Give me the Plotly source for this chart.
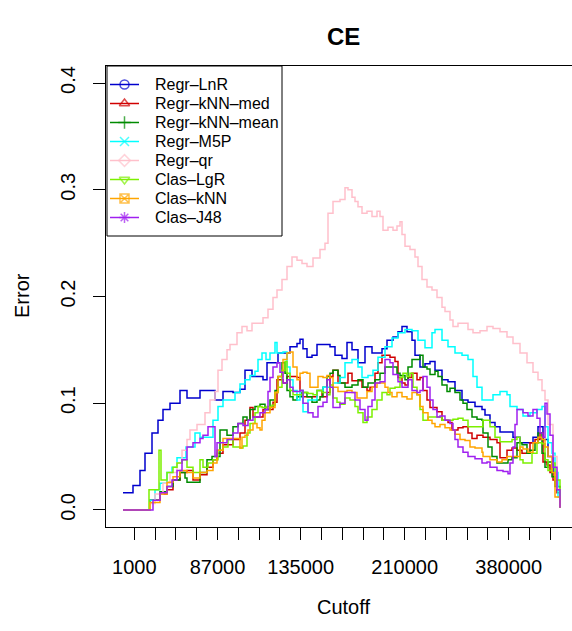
import plotly.graph_objects as go

FONT = "Liberation Sans, Arial, Helvetica, sans-serif"

# ---- data (index along cutoff axis, error value) ----
lnr_idx = [0,10,17,22,29,35,40,47,57,64,70,77,84,92,100,110,117,122,129,137,140,144,150,155,160,167,174,177,180,184,189,194,200,207,212,219,224,229,235,242,249,255,259,264,270,275,279,284,289,292,297,302,307,312,319,325,332,339,345,352,359,362,367,372,377,384,390,397,404,410,415,420,425,430,434,437]
lnr_err = [0.016,0.023,0.037,0.053,0.072,0.084,0.094,0.100,0.112,0.105,0.105,0.112,0.112,0.103,0.111,0.110,0.113,0.131,0.125,0.125,0.122,0.138,0.138,0.147,0.147,0.153,0.156,0.160,0.151,0.143,0.145,0.155,0.155,0.153,0.145,0.142,0.157,0.150,0.138,0.153,0.147,0.147,0.151,0.159,0.162,0.167,0.172,0.167,0.159,0.145,0.134,0.137,0.139,0.131,0.122,0.120,0.112,0.103,0.101,0.097,0.094,0.089,0.082,0.078,0.073,0.073,0.068,0.063,0.063,0.068,0.078,0.066,0.050,0.035,0.019,0.002]

knn_med_idx = [0,24,27,37,44,50,57,64,70,77,84,90,94,100,110,117,122,127,130,140,150,154,160,164,174,177,180,194,199,204,207,210,215,225,229,239,244,247,252,255,259,267,272,275,279,282,285,289,294,297,300,304,307,314,319,325,329,335,340,345,349,354,360,367,374,377,384,389,394,399,407,412,417,420,424,427,430,434,437]
knn_med_err = [0.0,0.0,0.009,0.015,0.019,0.028,0.035,0.037,0.028,0.033,0.040,0.047,0.053,0.061,0.066,0.072,0.084,0.096,0.087,0.094,0.101,0.122,0.119,0.125,0.124,0.112,0.106,0.112,0.106,0.110,0.125,0.131,0.119,0.128,0.121,0.115,0.112,0.115,0.128,0.138,0.145,0.143,0.139,0.124,0.119,0.117,0.124,0.128,0.122,0.124,0.112,0.103,0.096,0.092,0.084,0.082,0.075,0.077,0.078,0.072,0.067,0.070,0.068,0.066,0.063,0.049,0.056,0.058,0.056,0.053,0.063,0.066,0.072,0.045,0.042,0.035,0.028,0.016,0.002]

knn_mean_idx = [0,24,27,37,44,50,57,62,64,77,84,89,94,97,104,110,115,120,124,127,132,137,142,147,152,155,159,162,164,167,170,174,179,184,189,194,197,200,204,207,210,215,217,222,229,235,240,245,252,257,262,269,274,277,282,285,289,294,297,300,304,307,312,315,319,324,327,332,337,340,344,349,354,359,360,365,369,374,380,385,389,394,399,404,407,412,415,419,422,425,429,432,437]
knn_mean_err = [0.0,0.0,0.009,0.017,0.022,0.028,0.035,0.030,0.026,0.035,0.047,0.050,0.050,0.075,0.070,0.078,0.081,0.087,0.084,0.094,0.097,0.099,0.094,0.103,0.112,0.125,0.138,0.128,0.112,0.106,0.103,0.106,0.110,0.106,0.101,0.103,0.106,0.115,0.125,0.128,0.131,0.126,0.119,0.115,0.117,0.122,0.115,0.119,0.122,0.128,0.134,0.134,0.128,0.126,0.122,0.134,0.141,0.141,0.145,0.134,0.132,0.127,0.130,0.125,0.117,0.111,0.114,0.110,0.103,0.100,0.094,0.087,0.085,0.084,0.072,0.059,0.050,0.044,0.044,0.047,0.049,0.063,0.061,0.053,0.056,0.063,0.072,0.053,0.040,0.045,0.031,0.022,0.002]

m5p_idx = [0,22,27,32,37,44,49,54,61,63,70,72,77,84,90,95,100,107,112,117,122,127,132,135,139,143,147,152,154,160,164,167,170,174,177,180,185,194,200,210,217,222,229,235,239,245,250,255,262,269,275,282,289,295,302,309,312,319,325,332,339,345,350,354,359,364,370,377,384,387,394,400,407,414,419,422,425,429,432,435,437]
m5p_err = [0.0,0.0,0.009,0.019,0.025,0.035,0.040,0.049,0.049,0.059,0.059,0.072,0.068,0.068,0.084,0.097,0.103,0.103,0.110,0.118,0.122,0.126,0.130,0.141,0.147,0.141,0.147,0.157,0.147,0.148,0.134,0.122,0.112,0.103,0.112,0.092,0.103,0.112,0.115,0.119,0.124,0.138,0.141,0.134,0.124,0.126,0.131,0.143,0.153,0.161,0.166,0.169,0.168,0.159,0.152,0.166,0.169,0.159,0.153,0.147,0.145,0.141,0.125,0.115,0.103,0.103,0.108,0.111,0.108,0.097,0.094,0.088,0.091,0.094,0.097,0.078,0.063,0.053,0.035,0.012,0.002]

qr_idx = [0,22,27,32,40,47,54,59,64,67,74,82,87,92,95,99,104,107,114,119,124,129,140,145,150,154,159,164,169,174,179,184,190,197,202,205,210,217,222,225,229,232,235,239,244,249,254,257,260,265,270,274,277,279,282,287,292,295,299,304,309,314,319,322,327,330,335,340,345,350,357,364,370,377,384,390,397,404,410,415,419,422,425,430,434,437]
qr_err = [0.0,0.0,0.006,0.015,0.025,0.035,0.044,0.056,0.066,0.075,0.080,0.091,0.103,0.111,0.131,0.141,0.150,0.155,0.166,0.172,0.168,0.175,0.180,0.188,0.199,0.206,0.216,0.228,0.237,0.234,0.231,0.228,0.236,0.244,0.250,0.278,0.289,0.291,0.302,0.300,0.293,0.289,0.284,0.278,0.280,0.275,0.280,0.275,0.262,0.265,0.262,0.266,0.270,0.258,0.247,0.244,0.237,0.228,0.216,0.209,0.206,0.199,0.190,0.186,0.178,0.172,0.175,0.175,0.169,0.166,0.168,0.172,0.170,0.167,0.162,0.156,0.147,0.138,0.129,0.122,0.112,0.103,0.080,0.050,0.020,0.002]

lgr_idx = [0,25,26,35,36,38,44,50,54,59,64,70,77,80,85,90,95,100,105,110,117,120,124,127,132,135,139,144,149,152,155,159,162,164,167,170,175,180,185,190,194,199,204,207,210,214,217,222,227,232,235,240,244,249,254,259,264,267,272,277,280,284,287,290,294,297,300,305,312,319,325,330,335,340,345,352,360,367,372,377,384,389,394,397,400,405,409,414,419,422,425,429,432,437]
lgr_err = [0.0,0.0,0.019,0.019,0.056,0.028,0.035,0.040,0.044,0.047,0.040,0.035,0.047,0.040,0.044,0.047,0.056,0.059,0.066,0.059,0.058,0.060,0.072,0.081,0.091,0.097,0.096,0.097,0.098,0.110,0.115,0.131,0.139,0.128,0.112,0.108,0.108,0.110,0.109,0.108,0.112,0.110,0.108,0.117,0.105,0.101,0.099,0.105,0.103,0.097,0.091,0.082,0.087,0.094,0.103,0.110,0.108,0.114,0.115,0.124,0.128,0.125,0.128,0.115,0.108,0.094,0.084,0.087,0.087,0.084,0.084,0.085,0.086,0.084,0.078,0.078,0.084,0.078,0.068,0.064,0.064,0.066,0.068,0.047,0.044,0.044,0.053,0.063,0.062,0.047,0.037,0.044,0.028,0.002]

knn_idx = [0,25,27,37,44,50,57,64,70,77,84,90,94,100,107,117,119,122,125,130,134,137,139,142,147,152,155,160,164,167,170,174,177,180,184,187,195,200,204,207,210,215,224,229,234,244,249,254,262,265,269,274,279,284,289,294,297,300,305,309,312,317,322,327,332,337,342,347,352,359,360,367,374,379,384,394,397,400,405,410,415,419,422,425,429,432,437]
knn_err = [0.0,0.0,0.007,0.015,0.026,0.031,0.037,0.035,0.030,0.035,0.037,0.044,0.056,0.067,0.067,0.058,0.068,0.070,0.075,0.081,0.077,0.075,0.084,0.091,0.096,0.110,0.125,0.141,0.147,0.148,0.134,0.122,0.128,0.129,0.128,0.115,0.125,0.124,0.126,0.124,0.115,0.111,0.112,0.110,0.105,0.111,0.115,0.119,0.115,0.110,0.106,0.110,0.106,0.104,0.110,0.108,0.097,0.091,0.084,0.081,0.078,0.080,0.077,0.075,0.071,0.066,0.065,0.059,0.058,0.054,0.050,0.047,0.045,0.047,0.050,0.050,0.059,0.057,0.054,0.063,0.068,0.066,0.059,0.050,0.035,0.012,0.002]

j48_idx = [0,25,30,37,44,49,54,59,64,70,77,80,85,90,92,94,97,104,110,115,120,125,130,137,142,145,147,150,154,157,160,164,167,170,177,180,185,190,195,200,204,207,210,217,222,227,232,237,242,245,249,252,257,262,267,270,275,279,285,289,294,297,300,304,307,310,314,317,322,327,330,332,335,340,345,352,359,364,367,374,380,385,387,390,392,394,400,405,410,414,417,420,422,424,427,430,434,437]
j48_err = [0.0,0.0,0.009,0.016,0.022,0.028,0.037,0.047,0.059,0.063,0.067,0.070,0.078,0.078,0.050,0.063,0.063,0.066,0.072,0.081,0.079,0.084,0.087,0.091,0.094,0.111,0.124,0.134,0.138,0.129,0.119,0.122,0.115,0.111,0.112,0.100,0.091,0.087,0.097,0.101,0.122,0.115,0.096,0.100,0.110,0.110,0.103,0.094,0.084,0.097,0.103,0.119,0.120,0.141,0.138,0.127,0.120,0.115,0.122,0.112,0.110,0.112,0.125,0.115,0.103,0.094,0.087,0.088,0.084,0.081,0.075,0.066,0.059,0.054,0.050,0.048,0.044,0.045,0.040,0.037,0.036,0.034,0.044,0.059,0.080,0.094,0.091,0.088,0.094,0.086,0.072,0.068,0.100,0.090,0.070,0.040,0.019,0.002]

names = ["Regr–LnR", "Regr–kNN–med", "Regr–kNN–mean", "Regr–M5P",
         "Regr–qr", "Clas–LgR", "Clas–kNN", "Clas–J48"]
colors = ["#0000CD", "#D00000", "#008B00", "#00FFFF",
          "#FFC0CB", "#7CF000", "#FFA500", "#A020F0"]
symbols = ["circle-open", "triangle-up-open", "cross-thin-open", "x-thin-open",
           "diamond-open", "triangle-down-open", "square-x-open", "asterisk-open"]
xs_all = [lnr_idx, knn_med_idx, knn_mean_idx, m5p_idx, qr_idx, lgr_idx, knn_idx, j48_idx]
ys_all = [lnr_err, knn_med_err, knn_mean_err, m5p_err, qr_err, lgr_err, knn_err, j48_err]

tick_labels = ["1000", "", "", "", "87000", "", "", "", "135000", "", "", "", "",
               "210000", "", "", "", "", "380000", "", ""]
tick_pos = [11.3 + 20.8 * k for k in range(len(tick_labels))]

W, H = 572, 631
L, R, T, B = 106, 0, 66, 104
pw, ph = W - L - R, H - T - B

def px(xp):
    return (xp - L) / pw

def py(yp):
    return (H - B - yp) / ph

fig = go.Figure()
for name, xs, ys, c in zip(names, xs_all, ys_all, colors):
    assert len(xs) == len(ys), name
    fig.add_trace(go.Scatter(x=xs, y=ys, mode="lines", name=name,
                             line=dict(color=c, width=1.5, shape="hv"),
                             showlegend=False, hoverinfo="skip"))

# ---- hand-built legend (pixel-space overlay axes) ----
LEG_X0, LEG_X1, LEG_Y0, LEG_Y1 = 107, 282, 66, 236
ROW0, ROW_STEP = 84.5, 19.0
SYM_X0, SYM_X1, TXT_X = 110, 139, 153
annotations = []
for i, (name, c, s) in enumerate(zip(names, colors, symbols)):
    ry = ROW0 + ROW_STEP * i
    fig.add_trace(go.Scatter(
        x=[SYM_X0, (SYM_X0 + SYM_X1) / 2, SYM_X1], y=[ry, ry, ry],
        xaxis="x2", yaxis="y2", mode="lines+markers", showlegend=False,
        hoverinfo="skip", line=dict(color=c, width=1.5),
        marker=dict(symbol=s, size=[0, 9, 0], color=c, line=dict(color=c, width=1.5))))
    annotations.append(dict(text=name, x=TXT_X, y=ry, xref="x2", yref="y2",
                            showarrow=False, xanchor="left", yanchor="middle",
                            font=dict(family=FONT, size=16, color="black")))

annotations += [
    dict(text="<b>CE</b>", x=px(343), y=py(36), xref="paper", yref="paper",
         showarrow=False, xanchor="center", yanchor="middle",
         font=dict(family=FONT, size=24, color="black")),
    dict(text="Cutoff", x=px(343), y=py(607), xref="paper", yref="paper",
         showarrow=False, xanchor="center", yanchor="middle",
         font=dict(family=FONT, size=20, color="black")),
    dict(text="Error", x=px(22), y=py(296), xref="paper", yref="paper",
         showarrow=False, xanchor="center", yanchor="middle", textangle=-90,
         font=dict(family=FONT, size=20, color="black")),
]

fig.update_layout(
    width=W, height=H,
    margin=dict(l=L, r=R, t=T, b=B, pad=0),
    paper_bgcolor="white", plot_bgcolor="white",
    font=dict(family=FONT, size=20, color="black"),
    showlegend=False,
    xaxis=dict(range=[-17, 449], showgrid=False, zeroline=False,
               showline=True, linecolor="black", linewidth=1, mirror=True,
               ticks="outside", ticklen=12, tickcolor="black", tickwidth=1,
               tickvals=tick_pos, ticktext=tick_labels,
               tickfont=dict(family=FONT, size=20, color="black"),
               ticklabelstandoff=10),
    yaxis=dict(range=[-0.016, 0.416], showgrid=False, zeroline=False,
               showline=True, linecolor="black", linewidth=1,
               ticks="outside", ticklen=12, tickcolor="black", tickwidth=1,
               tickvals=[0, 0.1, 0.2, 0.3, 0.4],
               ticktext=["0.0", "0.1", "0.2", "0.3", "0.4"],
               tickangle=-90,
               tickfont=dict(family=FONT, size=20, color="black"),
               ticklabelstandoff=10),
    xaxis2=dict(range=[L, W - R], overlaying="x", anchor="y2", visible=False,
                fixedrange=True),
    yaxis2=dict(range=[H - B, T], overlaying="y", anchor="x2", visible=False,
                fixedrange=True),
    shapes=[dict(type="rect", xref="x2", yref="y2",
                 x0=LEG_X0, x1=LEG_X1, y0=LEG_Y0, y1=LEG_Y1,
                 fillcolor="white", line=dict(color="black", width=1),
                 layer="below")],
    annotations=annotations,
)

fig.write_html("out.html")
